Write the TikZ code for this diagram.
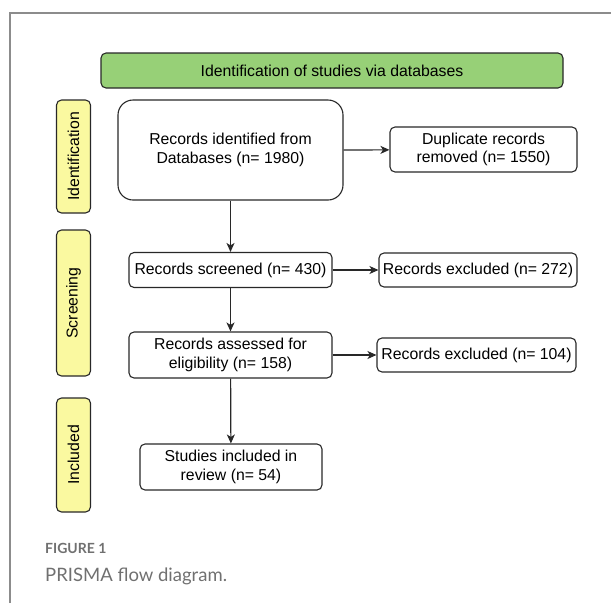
\documentclass[tikz,border=0pt]{standalone}
\usepackage{fontspec}
\setmainfont{Liberation Sans}
\newfontfamily\capfont{Lato}
\usetikzlibrary{shapes,arrows,arrows.meta,positioning}
\usepackage{xcolor}
\definecolor{prismagreen}{RGB}{151,208,119}
\definecolor{phaseyellow}{RGB}{250,249,160}
\definecolor{boxline}{RGB}{40,40,40}
\definecolor{framegray}{RGB}{140,140,140}
\definecolor{captiongray}{RGB}{112,112,112}

\begin{document}
\begin{tikzpicture}[
    x=1pt, y=-1pt,
    font=\fontsize{15.8}{18.2}\selectfont,
    box/.style={rectangle, rounded corners=5pt, draw=boxline, line width=1.1pt,
                fill=white, align=center, inner sep=2pt},
    phase/.style={rectangle, rounded corners=5pt, draw=boxline, line width=1.1pt,
                  fill=phaseyellow, rotate=90, minimum height=34pt},
    arrow/.style={->, line width=1.2pt, color=boxline, >={Stealth[length=9pt, width=8pt, inset=2.5pt]}}
]
\useasboundingbox (0,0) rectangle (611,603);

% page frame
\draw[framegray, line width=1.4pt] (10,603) -- (10,13) -- (611,13);

% header
\node[box, fill=prismagreen, minimum width=462pt, minimum height=35pt] (title) at (332,70.5)
    {Identification of studies via databases};

% phase labels (left)
\node[phase, minimum width=113pt] (ph-ident) at (73.5,156.5) {Identification};
\node[phase, minimum width=146pt] (ph-screen) at (73.5,303) {Screening};
\node[phase, minimum width=114pt] (ph-incl) at (73.5,455) {Included};

% main column
\node[box, rounded corners=15pt, minimum width=225pt, minimum height=100pt] (rec-id) at (230.5,150)
    {Records identified from\\Databases (n= 1980)};
\node[box, minimum width=203pt, minimum height=35pt] (rec-scr) at (230.5,270)
    {Records screened (n= 430)};
\node[box, minimum width=203pt, minimum height=46pt] (rec-elig) at (230.5,355)
    {Records assessed for\\eligibility (n= 158)};
\node[box, minimum width=182pt, minimum height=46pt] (incl) at (231,467)
    {Studies included in\\review (n= 54)};

% side column
\node[box, minimum width=187pt, minimum height=45pt] (rec-dup) at (483.5,149.5)
    {Duplicate records\\removed (n= 1550)};
\node[box, minimum width=198pt, minimum height=34pt] (rec-exc1) at (478,270)
    {Records excluded (n= 272)};
\node[box, minimum width=199pt, minimum height=34pt] (rec-exc2) at (476.5,355)
    {Records excluded (n= 104)};

\draw[arrow] (rec-id) -- (rec-scr);
\draw[arrow] (rec-scr) -- (rec-elig);
\draw[arrow] (rec-elig) -- (incl);
\draw[arrow] (rec-id.east) -- (rec-dup);
\draw[arrow] (rec-scr) -- (rec-exc1);
\draw[arrow] (rec-elig) -- (rec-exc2);

% caption
\node[anchor=west, inner sep=0pt, color=captiongray, font=\capfont\bfseries\fontsize{14}{16}\selectfont] (cap-num) at (45,548) {FIGURE 1};
\node[anchor=west, inner sep=0pt, color=captiongray, font=\capfont\fontsize{18.5}{22}\selectfont] (cap-text) at (45,576) {PRISMA flow diagram.};

\end{tikzpicture}
\end{document}
